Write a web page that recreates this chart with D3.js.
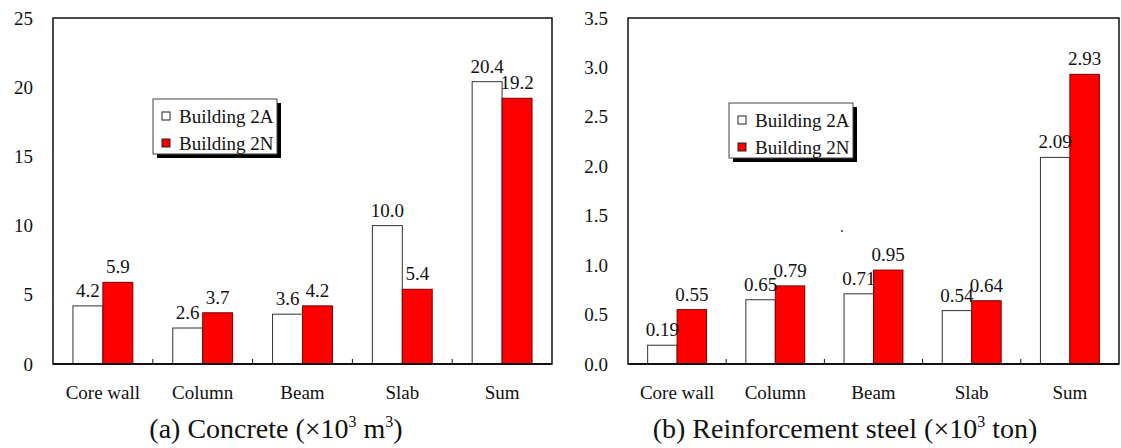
<!DOCTYPE html>
<html>
<head>
<meta charset="utf-8">
<script src="https://cdn.jsdelivr.net/npm/d3@7"></script>
<style>
    body { margin: 0; background: #fff; }
</style>
</head>
<body>
<div id="chart"></div>
<script>
const categories = ["Core wall", "Column", "Beam", "Slab", "Sum"];
const seriesNames = ["Building 2A", "Building 2N"];
const seriesColors = ["#ffffff", "#ff0000"];

const concrete2A = [4.2, 2.6, 3.6, 10.0, 20.4];
const concrete2N = [5.9, 3.7, 4.2, 5.4, 19.2];
const concreteTicks = [0, 5, 10, 15, 20, 25];

const steel2A = [0.19, 0.65, 0.71, 0.54, 2.09];
const steel2N = [0.55, 0.79, 0.95, 0.64, 2.93];
const steelTicks = [0, 0.5, 1.0, 1.5, 2.0, 2.5, 3.0, 3.5];

const FONT = "'Liberation Serif', 'Times New Roman', serif";

const svg = d3.select("#chart")
    .append("svg")
    .attr("width", 1121)
    .attr("height", 448)
    .style("font-family", FONT);

function addText(sel) {
    return sel.append("text")
        .attr("font-family", FONT)
        .attr("fill", "#111");
}

function drawPanel(options) {
    const left = options.left, right = options.right;
    const top = 18, bottom = 364;

    const x0 = d3.scaleBand()
        .domain(categories)
        .range([left, right])
        .padding(0);
    const x1 = d3.scaleBand()
        .domain(seriesNames)
        .range([x0.bandwidth() * 0.2, x0.bandwidth() * 0.8])
        .padding(0);
    const y = d3.scaleLinear()
        .domain([0, options.ticks[options.ticks.length - 1]])
        .range([bottom, top]);

    const g = svg.append("g");

    // bars
    const rows = categories.map((c, i) => ({ cat: c, values: [options.a[i], options.n[i]] }));
    const groups = g.selectAll(".grp")
        .data(rows)
        .join("g")
        .attr("transform", d => `translate(${x0(d.cat)},0)`);

    groups.selectAll("rect")
        .data(d => d.values.map((v, k) => ({ name: seriesNames[k], v: v, k: k })))
        .join("rect")
        .attr("x", d => x1(d.name))
        .attr("y", d => y(d.v))
        .attr("width", x1.bandwidth())
        .attr("height", d => y(0) - y(d.v))
        .attr("fill", d => seriesColors[d.k])
        .attr("stroke", d => d.k === 0 ? "#333" : "#7a0000")
        .attr("stroke-width", 1);

    groups.selectAll(".lbl")
        .data(d => d.values.map((v, k) => ({ name: seriesNames[k], v: v })))
        .join("text")
        .attr("font-family", FONT)
        .attr("fill", "#111")
        .attr("x", d => x1(d.name) + x1.bandwidth() / 2)
        .attr("y", d => y(d.v) - 9)
        .attr("text-anchor", "middle")
        .attr("font-size", "19px")
        .text(d => options.labelFormat(d.v));

    // plot frame
    g.append("rect")
        .attr("x", left)
        .attr("y", top)
        .attr("width", right - left)
        .attr("height", bottom - top)
        .attr("fill", "none")
        .attr("stroke", "#111")
        .attr("stroke-width", 1.5);
    g.append("line")
        .attr("x1", left).attr("x2", right)
        .attr("y1", bottom).attr("y2", bottom)
        .attr("stroke", "#111")
        .attr("stroke-width", 2);

    // category separators on x axis
    categories.slice(1).forEach(c => {
        g.append("line")
            .attr("x1", x0(c)).attr("x2", x0(c))
            .attr("y1", bottom).attr("y2", bottom - 5)
            .attr("stroke", "#111")
            .attr("stroke-width", 1);
    });

    // y tick labels
    options.ticks.forEach(t => {
        addText(g)
            .attr("x", left - 20)
            .attr("y", y(t))
            .attr("text-anchor", "end")
            .attr("dominant-baseline", "central")
            .attr("font-size", "19px")
            .text(options.tickFormat(t));
    });

    // category labels
    categories.forEach(c => {
        addText(g)
            .attr("x", x0(c) + x0.bandwidth() / 2)
            .attr("y", 399)
            .attr("text-anchor", "middle")
            .attr("font-size", "19px")
            .text(c);
    });

    // legend
    const lg = g.append("g")
        .attr("transform", `translate(${options.legendX},${options.legendY})`);
    lg.append("rect")
        .attr("x", 4).attr("y", 4)
        .attr("width", 124).attr("height", 55)
        .attr("fill", "#000");
    lg.append("rect")
        .attr("width", 124).attr("height", 55)
        .attr("fill", "#fff")
        .attr("stroke", "#444")
        .attr("stroke-width", 1);
    seriesNames.forEach((s, k) => {
        lg.append("rect")
            .attr("x", 9).attr("y", 13 + k * 27)
            .attr("width", 8).attr("height", 8)
            .attr("fill", seriesColors[k])
            .attr("stroke", "#222")
            .attr("stroke-width", 1);
        addText(lg)
            .attr("x", 26).attr("y", 17 + k * 27)
            .attr("dominant-baseline", "central")
            .attr("font-size", "19px")
            .text(s);
    });

    // panel title with superscripts
    const title = addText(g)
        .attr("x", options.titleX)
        .attr("y", 438)
        .attr("text-anchor", "middle")
        .attr("font-size", "28px");
    let lift = 0;
    options.title.forEach(part => {
        const dy = part.sup ? -11 - lift : -lift;
        lift = part.sup ? -11 : 0;
        const ts = title.append("tspan").attr("dy", dy).text(part.text);
        if (part.sup) ts.attr("font-size", "16px");
    });
}

drawPanel({
    left: 53, right: 552,
    a: concrete2A, n: concrete2N,
    ticks: concreteTicks,
    tickFormat: d3.format("d"),
    labelFormat: d3.format(".1f"),
    legendX: 153, legendY: 99,
    titleX: 276,
    title: [{ text: "(a) Concrete (\u00d710" }, { text: "3", sup: true }, { text: " m" }, { text: "3", sup: true }, { text: ")" }]
});

drawPanel({
    left: 628, right: 1119,
    a: steel2A, n: steel2N,
    ticks: steelTicks,
    tickFormat: d3.format(".1f"),
    labelFormat: d3.format(".2f"),
    legendX: 729, legendY: 103,
    titleX: 845,
    title: [{ text: "(b) Reinforcement steel (\u00d710" }, { text: "3", sup: true }, { text: " ton)" }]
});

// small stray dot present in the original figure
svg.append("circle").attr("cx", 842).attr("cy", 231).attr("r", 0.9).attr("fill", "#222");
</script>
</body>
</html>
